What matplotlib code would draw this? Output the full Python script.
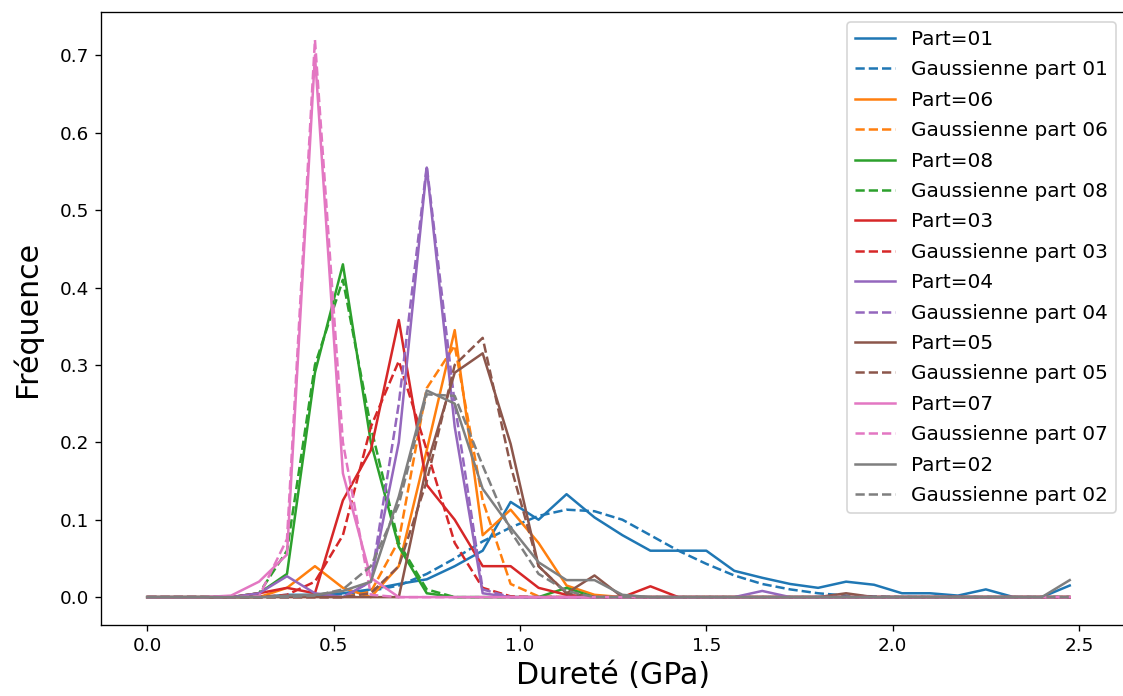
import numpy as np
import matplotlib.pyplot as plt

# positions des classes (GPa)
x = np.linspace(0, 2.475, 34)

parts = ["01", "06", "08", "03", "04", "05", "07", "02"]

freq_01 = [0, 0, 0, 0, 0, 0.003, 0.003, 0.005, 0.01, 0.017, 0.023, 0.04, 0.06, 0.123, 0.10, 0.133, 0.103,
           0.08, 0.06, 0.06, 0.06, 0.034, 0.025, 0.017, 0.012, 0.02, 0.016, 0.005, 0.005, 0.002, 0.01, 0, 0, 0.015]
gauss_01 = [0, 0, 0, 0, 0, 0.001, 0.002, 0.004, 0.008, 0.015, 0.03, 0.05, 0.072, 0.09, 0.105, 0.113, 0.111,
            0.1, 0.08, 0.06, 0.043, 0.028, 0.017, 0.01, 0.005, 0.002, 0.001, 0, 0, 0, 0, 0, 0, 0]

freq_06 = [0, 0, 0, 0, 0, 0.012, 0.04, 0.012, 0, 0.04, 0.19, 0.345, 0.08, 0.113, 0.07, 0.015, 0.003,
           0, 0, 0, 0, 0, 0, 0, 0, 0, 0, 0, 0, 0, 0, 0, 0, 0]
gauss_06 = [0, 0, 0, 0, 0, 0, 0, 0, 0.007, 0.073, 0.27, 0.325, 0.125, 0.017, 0.001, 0, 0,
            0, 0, 0, 0, 0, 0, 0, 0, 0, 0, 0, 0, 0, 0, 0, 0, 0]

freq_08 = [0, 0, 0, 0, 0.005, 0.03, 0.29, 0.43, 0.2, 0.065, 0.005, 0, 0, 0, 0, 0.012, 0,
           0, 0, 0, 0, 0, 0, 0, 0, 0, 0, 0, 0, 0, 0, 0, 0, 0]
gauss_08 = [0, 0, 0, 0, 0.005, 0.06, 0.30, 0.41, 0.22, 0.07, 0.01, 0, 0, 0, 0, 0, 0,
            0, 0, 0, 0, 0, 0, 0, 0, 0, 0, 0, 0, 0, 0, 0, 0, 0]

freq_03 = [0, 0, 0, 0, 0.005, 0.012, 0.005, 0.125, 0.19, 0.358, 0.145, 0.10, 0.04, 0.04, 0.012, 0.003, 0,
           0, 0.014, 0, 0, 0, 0, 0, 0, 0, 0, 0, 0, 0, 0, 0, 0, 0]
gauss_03 = [0, 0, 0, 0, 0, 0.003, 0.02, 0.08, 0.22, 0.305, 0.19, 0.07, 0.012, 0.001, 0, 0, 0,
            0, 0, 0, 0, 0, 0, 0, 0, 0, 0, 0, 0, 0, 0, 0, 0, 0]

freq_04 = [0, 0, 0, 0, 0.005, 0.027, 0.005, 0, 0.02, 0.2, 0.555, 0.22, 0.005, 0, 0, 0, 0,
           0, 0, 0, 0, 0, 0.008, 0, 0, 0, 0, 0, 0, 0, 0, 0, 0, 0]
gauss_04 = [0, 0, 0, 0, 0, 0, 0, 0, 0.02, 0.25, 0.557, 0.25, 0.01, 0, 0, 0, 0,
            0, 0, 0, 0, 0, 0, 0, 0, 0, 0, 0, 0, 0, 0, 0, 0, 0]

freq_05 = [0, 0, 0, 0, 0, 0, 0, 0, 0, 0, 0.17, 0.29, 0.315, 0.198, 0.04, 0.005, 0.028,
           0, 0, 0, 0, 0, 0, 0, 0, 0.005, 0, 0, 0, 0, 0, 0, 0, 0]
gauss_05 = [0, 0, 0, 0, 0, 0, 0, 0, 0.005, 0.04, 0.15, 0.3, 0.335, 0.17, 0.04, 0.005, 0,
            0, 0, 0, 0, 0, 0, 0, 0, 0, 0, 0, 0, 0, 0, 0, 0, 0]

freq_07 = [0, 0, 0, 0.002, 0.02, 0.055, 0.70, 0.16, 0.025, 0, 0, 0, 0, 0, 0, 0, 0,
           0, 0, 0, 0, 0, 0, 0, 0, 0, 0, 0, 0, 0, 0, 0, 0, 0]
gauss_07 = [0, 0, 0, 0, 0.001, 0.075, 0.72, 0.2, 0.003, 0, 0, 0, 0, 0, 0, 0, 0,
            0, 0, 0, 0, 0, 0, 0, 0, 0, 0, 0, 0, 0, 0, 0, 0, 0]

freq_02 = [0, 0, 0, 0, 0, 0.002, 0.003, 0.008, 0.02, 0.13, 0.267, 0.25, 0.14, 0.09, 0.045, 0.022, 0.022,
           0.003, 0, 0, 0, 0, 0, 0, 0, 0, 0, 0, 0, 0, 0, 0, 0, 0.022]
gauss_02 = [0, 0, 0, 0, 0, 0, 0.002, 0.01, 0.04, 0.12, 0.262, 0.26, 0.17, 0.085, 0.03, 0.008, 0,
            0, 0, 0, 0, 0, 0, 0, 0, 0, 0, 0, 0, 0, 0, 0, 0, 0]

freqs = [freq_01, freq_06, freq_08, freq_03, freq_04, freq_05, freq_07, freq_02]
gauss = [gauss_01, gauss_06, gauss_08, gauss_03, gauss_04, gauss_05, gauss_07, gauss_02]

f = plt.figure(figsize=(1123 / 120, 696 / 120), dpi=120)
# l'image d'origine est coupée à droite : le cadre dépasse un peu
ax = f.add_axes([101 / 1123, 71 / 696, 1025 / 1123, 613 / 696])

for i, p in enumerate(parts):
    c = "C%d" % i
    ax.plot(x, freqs[i], color=c, label="Part=" + p)
    ax.plot(x, gauss[i], color=c, linestyle="--", label="Gaussienne part " + p)

ax.set_xlim(-0.124, 2.626)
ax.tick_params(labelsize=11)
ax.set_xlabel("Dureté (GPa)", fontsize=18)
ax.set_ylabel("Fréquence", fontsize=18, labelpad=11)
ax.legend(loc="upper right", fontsize=12, labelspacing=0.57)

plt.savefig("out.png", dpi=120)
